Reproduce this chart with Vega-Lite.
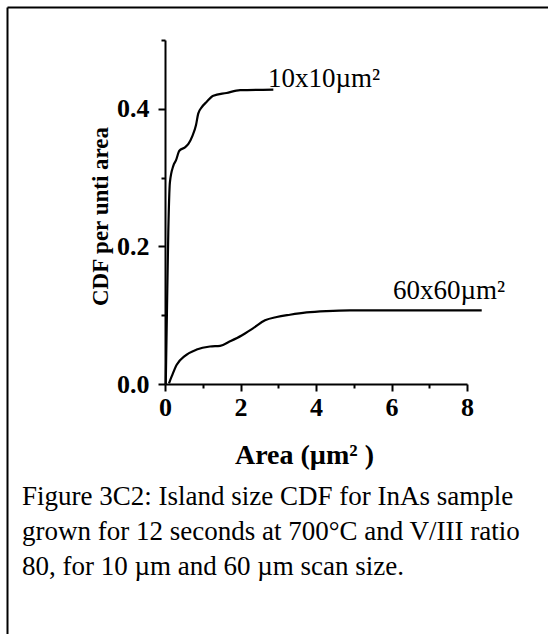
{
  "$schema": "https://vega.github.io/schema/vega-lite/v6.json",
  "width": 541,
  "height": 627,
  "autosize": {"type": "none"},
  "padding": {"left": 7, "top": 7, "right": 0, "bottom": 0},
  "background": "white",
  "title": {
    "text": ["Figure 3C2: Island size CDF for InAs sample", "grown for 12 seconds at 700°C and V/III ratio", "80, for 10 µm and 60 µm scan size."],
    "orient": "top",
    "anchor": "start",
    "frame": "group",
    "offset": 0,
    "dx": 15,
    "dy": 595,
    "baseline": "alphabetic",
    "font": "Liberation Serif",
    "fontSize": 27,
    "fontWeight": "normal",
    "color": "black",
    "lineHeight": 35
  },
  "datasets": {
    "curves": [
      {"series": "10x10", "area": 0.02, "cdf": 0.0},
      {"series": "10x10", "area": 0.05, "cdf": 0.10},
      {"series": "10x10", "area": 0.087, "cdf": 0.22},
      {"series": "10x10", "area": 0.13, "cdf": 0.293},
      {"series": "10x10", "area": 0.22, "cdf": 0.317},
      {"series": "10x10", "area": 0.29, "cdf": 0.325},
      {"series": "10x10", "area": 0.38, "cdf": 0.339},
      {"series": "10x10", "area": 0.53, "cdf": 0.344},
      {"series": "10x10", "area": 0.62, "cdf": 0.349},
      {"series": "10x10", "area": 0.73, "cdf": 0.361},
      {"series": "10x10", "area": 0.82, "cdf": 0.376},
      {"series": "10x10", "area": 0.88, "cdf": 0.393},
      {"series": "10x10", "area": 0.97, "cdf": 0.402},
      {"series": "10x10", "area": 1.10, "cdf": 0.410},
      {"series": "10x10", "area": 1.28, "cdf": 0.419},
      {"series": "10x10", "area": 1.63, "cdf": 0.423},
      {"series": "10x10", "area": 1.99, "cdf": 0.427},
      {"series": "10x10", "area": 2.87, "cdf": 0.428},
      {"series": "60x60", "area": 0.106, "cdf": 0.001},
      {"series": "60x60", "area": 0.177, "cdf": 0.011},
      {"series": "60x60", "area": 0.31, "cdf": 0.028},
      {"series": "60x60", "area": 0.53, "cdf": 0.041},
      {"series": "60x60", "area": 0.84, "cdf": 0.050},
      {"series": "60x60", "area": 1.19, "cdf": 0.0545},
      {"series": "60x60", "area": 1.46, "cdf": 0.0555},
      {"series": "60x60", "area": 1.72, "cdf": 0.062},
      {"series": "60x60", "area": 2.03, "cdf": 0.0706},
      {"series": "60x60", "area": 2.34, "cdf": 0.0813},
      {"series": "60x60", "area": 2.65, "cdf": 0.0925},
      {"series": "60x60", "area": 2.96, "cdf": 0.0974},
      {"series": "60x60", "area": 3.31, "cdf": 0.1007},
      {"series": "60x60", "area": 3.75, "cdf": 0.104},
      {"series": "60x60", "area": 4.28, "cdf": 0.106},
      {"series": "60x60", "area": 4.9, "cdf": 0.107},
      {"series": "60x60", "area": 6.0, "cdf": 0.107},
      {"series": "60x60", "area": 7.2, "cdf": 0.107},
      {"series": "60x60", "area": 8.39, "cdf": 0.107}
    ],
    "labels": [
      {"area": 2.73, "cdf": 0.432, "label": "10x10µm²"},
      {"area": 6.04, "cdf": 0.124, "label": "60x60µm²"}
    ]
  },
  "layer": [
    {
      "encoding": {
        "x": {
          "field": "area",
          "type": "quantitative",
          "scale": {"domain": [0, 8], "range": [158, 460], "nice": false},
          "axis": {
            "orient": "bottom",
            "values": [0, 1, 2, 3, 4, 5, 6, 7, 8],
            "format": "d",
            "labelExpr": "datum.value % 2 === 0 ? datum.label : ''",
            "offset": -250,
            "grid": false,
            "domainColor": "black",
            "domainWidth": 2,
            "tickColor": "black",
            "tickWidth": 2,
            "tickSize": {"condition": {"test": "datum.value % 2 === 0", "value": 7}, "value": 4},
            "labelFont": "Liberation Serif",
            "labelFontWeight": "bold",
            "labelFontSize": 26,
            "labelColor": "black",
            "labelPadding": 3,
            "labelFlush": false,
            "labelOverlap": false,
            "labelBound": false,
            "title": "Area (µm² )",
            "titleFont": "Liberation Serif",
            "titleFontWeight": "bold",
            "titleFontSize": 28,
            "titleColor": "black",
            "titleX": 297,
            "titleY": 79,
            "titleAlign": "center",
            "titleBaseline": "alphabetic"
          }
        },
        "y": {
          "field": "cdf",
          "type": "quantitative",
          "scale": {"domain": [0, 0.5], "range": [377, 33], "nice": false},
          "axis": {
            "orient": "left",
            "values": [0, 0.1, 0.2, 0.3, 0.4, 0.5],
            "format": ".1f",
            "labelExpr": "round(datum.value * 10) % 2 === 0 ? datum.label : ''",
            "offset": -158,
            "grid": false,
            "domainColor": "black",
            "domainWidth": 2,
            "tickColor": "black",
            "tickWidth": 2,
            "tickSize": {"condition": {"test": "round(datum.value * 10) % 2 === 0", "value": 7}, "value": 4},
            "labelFont": "Liberation Serif",
            "labelFontWeight": "bold",
            "labelFontSize": 26,
            "labelColor": "black",
            "labelPadding": 9,
            "labelOverlap": false,
            "labelBound": false,
            "labelFlush": false,
            "title": "CDF per unti area",
            "titleFont": "Liberation Serif",
            "titleFontWeight": "bold",
            "titleFontSize": 23,
            "titleColor": "black",
            "titleAngle": 270,
            "titleX": -58,
            "titleY": 209,
            "titleAlign": "center",
            "titleBaseline": "alphabetic"
          }
        }
      },
      "layer": [
        {
          "data": {"name": "curves"},
          "mark": {"type": "line", "color": "black", "strokeWidth": 2.2, "interpolate": "monotone", "clip": false},
          "encoding": {"detail": {"field": "series", "type": "nominal"}}
        },
        {
          "data": {"name": "labels"},
          "mark": {"type": "text", "align": "left", "baseline": "alphabetic", "font": "Liberation Serif", "fontSize": 27, "color": "black"},
          "encoding": {"text": {"field": "label", "type": "nominal"}}
        }
      ]
    },
    {
      "data": {"name": "labels"},
      "mark": {"type": "point", "opacity": 0},
      "encoding": {
        "x": {
          "field": "area",
          "type": "quantitative",
          "scale": {"domain": [0, 10], "nice": false},
          "axis": {"orient": "top", "offset": 0, "ticks": false, "labels": false, "grid": false, "title": null, "domainColor": "black", "domainWidth": 2}
        },
        "y": {
          "field": "cdf",
          "type": "quantitative",
          "scale": {"domain": [0, 1], "nice": false},
          "axis": {"orient": "left", "offset": 0, "ticks": false, "labels": false, "grid": false, "title": null, "domainColor": "black", "domainWidth": 2}
        }
      }
    }
  ],
  "resolve": {"scale": {"x": "independent", "y": "independent"}, "axis": {"x": "independent", "y": "independent"}},
  "config": {
    "view": {"stroke": null}
  }
}
